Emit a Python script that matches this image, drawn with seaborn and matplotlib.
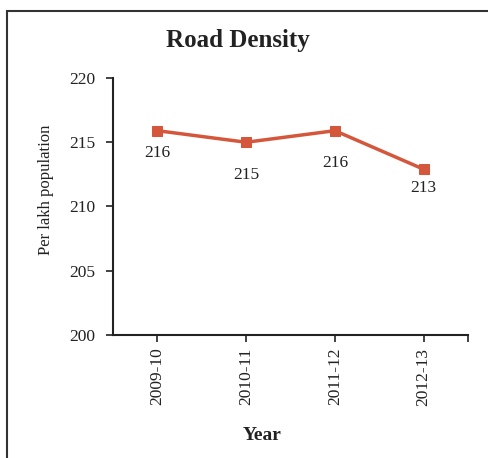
import matplotlib
matplotlib.use("Agg")
import matplotlib.pyplot as plt
import seaborn as sns
import pandas as pd
from matplotlib.patches import Rectangle

years = ["2009-10", "2010-11", "2011-12", "2012-13"]
density = [215.9, 215.0, 215.9, 212.9]
labels = ["216", "215", "216", "213"]
label_offsets = [-22, -33, -32, -19]  # px below point (style)

sns.set_theme(style="white")
plt.rcParams["font.family"] = ["Liberation Serif", "DejaVu Serif"]

df = pd.DataFrame({"Year": years, "Density": density})

fig = plt.figure(figsize=(4.88, 4.58), dpi=100)
ax = fig.add_axes([113/488, 1-335/458, (468-113)/488, (335-78)/458])

color = "#D5573B"
sns.lineplot(data=df, x="Year", y="Density", ax=ax, color=color, lw=2.5,
             marker="s", markersize=7, markeredgecolor=color, sort=False)

for i, (v, lab) in enumerate(zip(density, labels)):
    ax.annotate(lab, (i, v), xytext=(0, label_offsets[i]), textcoords="offset pixels",
                ha="center", va="center", fontsize=12.5, color="#222222")

ax.set_ylim(200, 220)
ax.set_yticks([200, 205, 210, 215, 220])
ax.set_xlim(-0.5, 3.5)
ax.set_xticks(range(len(years)))
ax.set_xticklabels(years, rotation=90, fontsize=12.5, color="#222222")
ax.set_xticks([3.5], minor=True)
ax.tick_params(axis="y", labelsize=12.5, labelcolor="#222222", direction="out",
               length=5, width=1.2, left=True, color="#222222", pad=8)
ax.tick_params(axis="x", which="both", direction="out", length=5, width=1.2,
               bottom=True, color="#222222", pad=4)

for s in ["top", "right"]:
    ax.spines[s].set_visible(False)
for s in ["left", "bottom"]:
    ax.spines[s].set_color("#222222")
    ax.spines[s].set_linewidth(1.5)

ax.set_xlabel("")
ax.set_ylabel("")
fig.text(46/488, 1-190/458, "Per lakh population", rotation=90, ha="center",
         va="center", fontsize=12, color="#222222")
fig.text(262/488, 1-436/458, "Year", ha="center", va="center", fontsize=14,
         fontweight="bold", color="#222222")
fig.text(238/488, 1-40/458, "Road Density", ha="center", va="center",
         fontsize=18, fontweight="bold", color="#222222")

fig.patches.append(Rectangle((6.5/488, -0.05), 1.0, 1.05 - 11/458,
                             transform=fig.transFigure, fill=False,
                             edgecolor="#333333", lw=1.5))

fig.savefig("out.png", dpi=100)
